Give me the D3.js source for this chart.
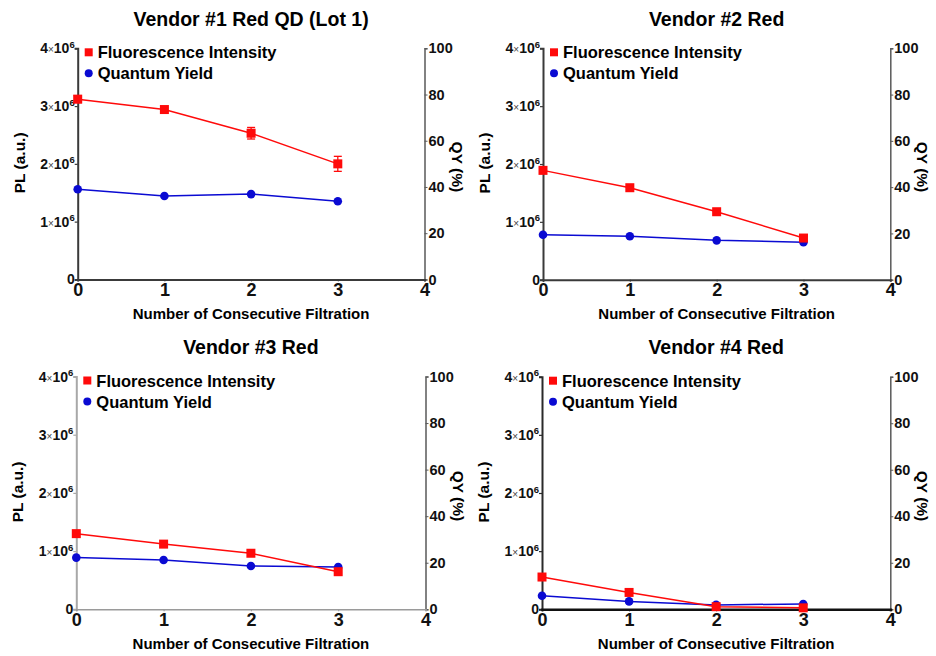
<!DOCTYPE html>
<html>
<head>
<meta charset="utf-8">
<script src="https://cdn.jsdelivr.net/npm/d3@7"></script>
<style>
  html, body { margin: 0; padding: 0; background: #fff; }
  svg { display: block; font-family: "Liberation Sans", Arial, sans-serif; }
</style>
</head>
<body>
<svg id="chart" width="936" height="656"></svg>
<script>
// Filtration passes shared by every panel
const filtrations = [0, 1, 2, 3];
const xTicks = [0, 1, 2, 3, 4];
const plTicks = [0, 1e6, 2e6, 3e6, 4e6];
const qyTicks = [0, 20, 40, 60, 80, 100];

const titles = ["Vendor #1 Red QD (Lot 1)", "Vendor #2 Red", "Vendor #3 Red", "Vendor #4 Red"];

// Fluorescence intensity (PL, a.u.) per vendor
const pl1 = [3.12e6, 2.94e6, 2.53e6, 2.00e6];
const pl2 = [1.89e6, 1.59e6, 1.175e6, 0.72e6];
const pl3 = [1.30e6, 1.12e6, 0.963e6, 0.646e6];
const pl4 = [0.555e6, 0.29e6, 0.045e6, 0.025e6];

// Standard deviation of PL
const plErr1 = [0.06e6, 0.03e6, 0.10e6, 0.13e6];
const plErr2 = [0, 0, 0, 0.04e6];
const plErr3 = [0, 0, 0, 0];
const plErr4 = [0, 0, 0, 0];

// Quantum yield (%) per vendor
const qy1 = [39.0, 36.1, 36.9, 33.8];
const qy2 = [19.4, 18.8, 17.0, 16.2];
const qy3 = [22.2, 21.2, 18.6, 18.2];
const qy4 = [5.8, 3.4, 1.9, 2.3];

const plSeries = [pl1, pl2, pl3, pl4];
const errSeries = [plErr1, plErr2, plErr3, plErr4];
const qySeries = [qy1, qy2, qy3, qy4];

const RED = "#ff0a0a";
const BLUE = "#0a0ad2";

// Panel frames: plot rectangle (left, right, top, bottom) in page pixels
const panels = [
  { l: 77.7,  r: 424.5, t: 48.3,  b: 279.4, leftAxis: "#3a3a3a", bottomAxis: "#3a3a3a", bw: 2 },
  { l: 543,   r: 890.3, t: 48.3,  b: 279.7, leftAxis: "#3a3a3a", bottomAxis: "#3a3a3a", bw: 2 },
  { l: 76.3,  r: 425.5, t: 376.5, b: 609.3, leftAxis: "#a8a8a8", bottomAxis: "#9a9a9a", bw: 1.6 },
  { l: 542,   r: 890.3, t: 376.7, b: 609.3, leftAxis: "#2a2a2a", bottomAxis: "#111", bw: 2.6 }
];

const svg = d3.select("#chart");

panels.forEach((p, i) => {
  const g = svg.append("g");
  const x = d3.scaleLinear().domain([0, 4]).range([p.l, p.r]);
  const yPL = d3.scaleLinear().domain([0, 4e6]).range([p.b, p.t]);
  const yQY = d3.scaleLinear().domain([0, 100]).range([p.b, p.t]);
  const cx = (p.l + p.r) / 2;

  // Title
  g.append("text")
    .attr("x", cx).attr("y", p.t - 22.5)
    .attr("text-anchor", "middle")
    .attr("font-size", 19.5).attr("font-weight", "bold")
    .text(titles[i]);

  // Left PL axis
  const left = g.append("g").attr("transform", `translate(${p.l},0)`)
    .call(d3.axisLeft(yPL).tickValues(plTicks).tickSize(3).tickFormat(""));
  left.select(".domain").attr("stroke", p.leftAxis).attr("stroke-width", 2);
  left.selectAll(".tick line").attr("stroke", p.leftAxis).attr("stroke-width", 1.2);

  plTicks.forEach(v => {
    const t = g.append("text")
      .attr("x", p.l - 3).attr("y", yPL(v) + 5)
      .attr("text-anchor", "end")
      .attr("font-size", 14).attr("font-weight", "bold")
      .attr("fill", "#111");
    if (v === 0) { t.text("0"); return; }
    t.append("tspan").text(String(v / 1e6));
    t.append("tspan").attr("font-size", 10).attr("font-weight", "normal").attr("fill", "#444").text("×");
    t.append("tspan").text("10");
    t.append("tspan").attr("font-size", 9.5).attr("dy", -5.5).text("6");
  });

  // Right QY axis
  const right = g.append("g").attr("transform", `translate(${p.r},0)`)
    .call(d3.axisRight(yQY).tickValues(qyTicks).tickSize(3).tickPadding(1));
  right.select(".domain").attr("stroke", "#5a5a5a").attr("stroke-width", 1.5);
  right.selectAll(".tick line").attr("stroke", "#5a5a5a");
  right.selectAll(".tick text")
    .attr("font-size", 14.5).attr("font-weight", "bold")
    .attr("font-family", "Liberation Sans, Arial, sans-serif").attr("fill", "#111");

  // Bottom axis
  const bottom = g.append("g").attr("transform", `translate(0,${p.b})`)
    .call(d3.axisBottom(x).tickValues(xTicks).tickSize(2).tickPadding(2).tickFormat(d3.format("d")));
  bottom.select(".domain").attr("stroke", p.bottomAxis).attr("stroke-width", p.bw);
  bottom.selectAll(".tick line").attr("stroke", p.bottomAxis);
  bottom.selectAll(".tick text")
    .attr("font-size", 18).attr("font-weight", "bold")
    .attr("font-family", "Liberation Sans, Arial, sans-serif").attr("fill", "#111");

  // Axis titles
  g.append("text")
    .attr("x", cx).attr("y", p.b + 39.5)
    .attr("text-anchor", "middle")
    .attr("font-size", 15).attr("font-weight", "bold")
    .text("Number of Consecutive Filtration");

  g.append("text")
    .attr("transform", `translate(${p.l - 53},${(p.t + p.b) / 2 - 1}) rotate(-90)`)
    .attr("text-anchor", "middle")
    .attr("font-size", 15.5).attr("font-weight", "bold")
    .text("PL (a.u.)");

  g.append("text")
    .attr("transform", `translate(${p.r + 27},${(p.t + p.b) / 2 + 3}) rotate(90)`)
    .attr("text-anchor", "middle")
    .attr("font-size", 15.5).attr("font-weight", "bold")
    .text("QY (%)");

  // Quantum yield line + markers
  const qyData = filtrations.map((f, k) => ({ f, v: qySeries[i][k] }));
  g.append("path").datum(qyData)
    .attr("fill", "none").attr("stroke", BLUE).attr("stroke-width", 1.5)
    .attr("d", d3.line().x(d => x(d.f)).y(d => yQY(d.v)));
  g.selectAll(null).data(qyData).join("circle")
    .attr("cx", d => x(d.f)).attr("cy", d => yQY(d.v)).attr("r", 4.3)
    .attr("fill", BLUE);

  // Fluorescence intensity line, error bars and markers
  const plData = filtrations.map((f, k) => ({ f, v: plSeries[i][k], e: errSeries[i][k] }));
  g.append("path").datum(plData)
    .attr("fill", "none").attr("stroke", RED).attr("stroke-width", 1.5)
    .attr("d", d3.line().x(d => x(d.f)).y(d => yPL(d.v)));
  const eb = g.selectAll(null).data(plData.filter(d => d.e > 0)).join("g")
    .attr("stroke", RED).attr("stroke-width", 1.3);
  eb.append("line")
    .attr("x1", d => x(d.f)).attr("x2", d => x(d.f))
    .attr("y1", d => yPL(d.v - d.e)).attr("y2", d => yPL(d.v + d.e));
  eb.append("line")
    .attr("x1", d => x(d.f) - 4).attr("x2", d => x(d.f) + 4)
    .attr("y1", d => yPL(d.v + d.e)).attr("y2", d => yPL(d.v + d.e));
  eb.append("line")
    .attr("x1", d => x(d.f) - 4).attr("x2", d => x(d.f) + 4)
    .attr("y1", d => yPL(d.v - d.e)).attr("y2", d => yPL(d.v - d.e));
  g.selectAll(null).data(plData).join("rect")
    .attr("x", d => x(d.f) - 4.5).attr("y", d => yPL(d.v) - 4.5)
    .attr("width", 9).attr("height", 9)
    .attr("fill", RED);

  // Legend
  const lx = p.l + 11, ly = p.t + 4;
  g.append("rect").attr("x", lx - 4).attr("y", ly - 4).attr("width", 8).attr("height", 8).attr("fill", RED);
  g.append("text").attr("x", lx + 9).attr("y", ly + 6)
    .attr("font-size", 16.5).attr("font-weight", "bold").text("Fluorescence Intensity");
  g.append("circle").attr("cx", lx).attr("cy", ly + 21).attr("r", 4).attr("fill", BLUE);
  g.append("text").attr("x", lx + 9).attr("y", ly + 27)
    .attr("font-size", 16.5).attr("font-weight", "bold").text("Quantum Yield");
});
</script>
</body>
</html>
